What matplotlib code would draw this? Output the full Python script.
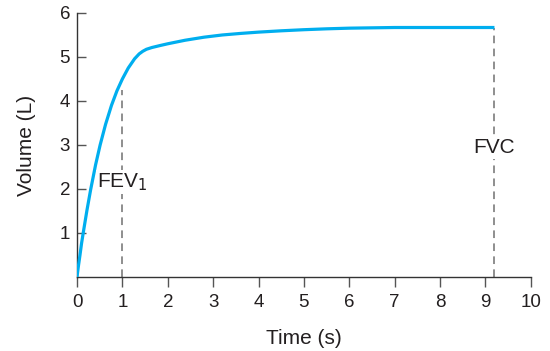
import matplotlib
matplotlib.use("Agg")
import matplotlib.pyplot as plt

# Data
time_s = [0, 0.03, 0.066, 0.10, 0.14, 0.22, 0.30, 0.41, 0.51, 0.63, 0.76, 0.88,
          1.00, 1.13, 1.27, 1.37, 1.45, 1.53, 1.65, 1.83, 2.00, 2.38, 2.80,
          3.20, 3.60, 4.00, 4.50, 5.00, 5.50, 6.00, 7.00, 8.00, 9.20]
volume_l = [0, 0.24, 0.50, 0.76, 1.02, 1.52, 1.98, 2.55, 3.00, 3.47, 3.90, 4.23,
            4.50, 4.75, 4.96, 5.07, 5.13, 5.175, 5.215, 5.26, 5.30, 5.38, 5.45,
            5.50, 5.535, 5.565, 5.595, 5.62, 5.64, 5.655, 5.67, 5.67, 5.67]
fev1_time = 1.0
fev1_value = 4.25
fvc_time = 9.2
fvc_value = 5.67
x_ticks = list(range(0, 11))
y_ticks = [1, 2, 3, 4, 5, 6]

plt.rcParams['font.family'] = ['Liberation Sans', 'DejaVu Sans']

fig = plt.figure(figsize=(5.5, 3.51), dpi=100)
ax = fig.add_axes([0.14, 0.211, 0.825, 0.752])

ax.plot(time_s, volume_l, color='#00AEEF', lw=2.3, solid_capstyle='butt',
        solid_joinstyle='round', zorder=3)
ax.plot([fev1_time, fev1_time], [0, fev1_value], color='#707070', lw=1.1,
        dashes=(5, 3.5), zorder=2)
ax.plot([fvc_time, fvc_time], [0, fvc_value], color='#707070', lw=1.1,
        dashes=(5, 3.5), zorder=2)

ax.text(fev1_time, 2.16, 'FEV$_1$', ha='center', va='center', fontsize=15,
        color='#231F20', bbox=dict(facecolor='white', edgecolor='none', pad=1),
        zorder=4)
ax.text(fvc_time, 2.94, 'FVC', ha='center', va='center', fontsize=15,
        color='#231F20', bbox=dict(facecolor='white', edgecolor='none', pad=1),
        zorder=4)

ax.set_xlim(0, 10)
ax.set_ylim(0, 6)
ax.set_xticks(x_ticks)
ax.set_yticks(y_ticks)
for s in ['top', 'right']:
    ax.spines[s].set_visible(False)
for s in ['left', 'bottom']:
    ax.spines[s].set_color('#333333')
    ax.spines[s].set_linewidth(1.0)
ax.tick_params(axis='x', direction='out', length=7, width=1, color='#555555',
               labelsize=13.5, labelcolor='#231F20', pad=5)
ax.tick_params(axis='y', direction='in', length=6.5, width=1, color='#555555',
               labelsize=13.5, labelcolor='#231F20', pad=5)
ax.set_xlabel('Time (s)', fontsize=15, color='#231F20', labelpad=13)
ax.set_ylabel('Volume (L)', fontsize=15, color='#231F20', labelpad=17)

fig.savefig('out.png', dpi=100)
